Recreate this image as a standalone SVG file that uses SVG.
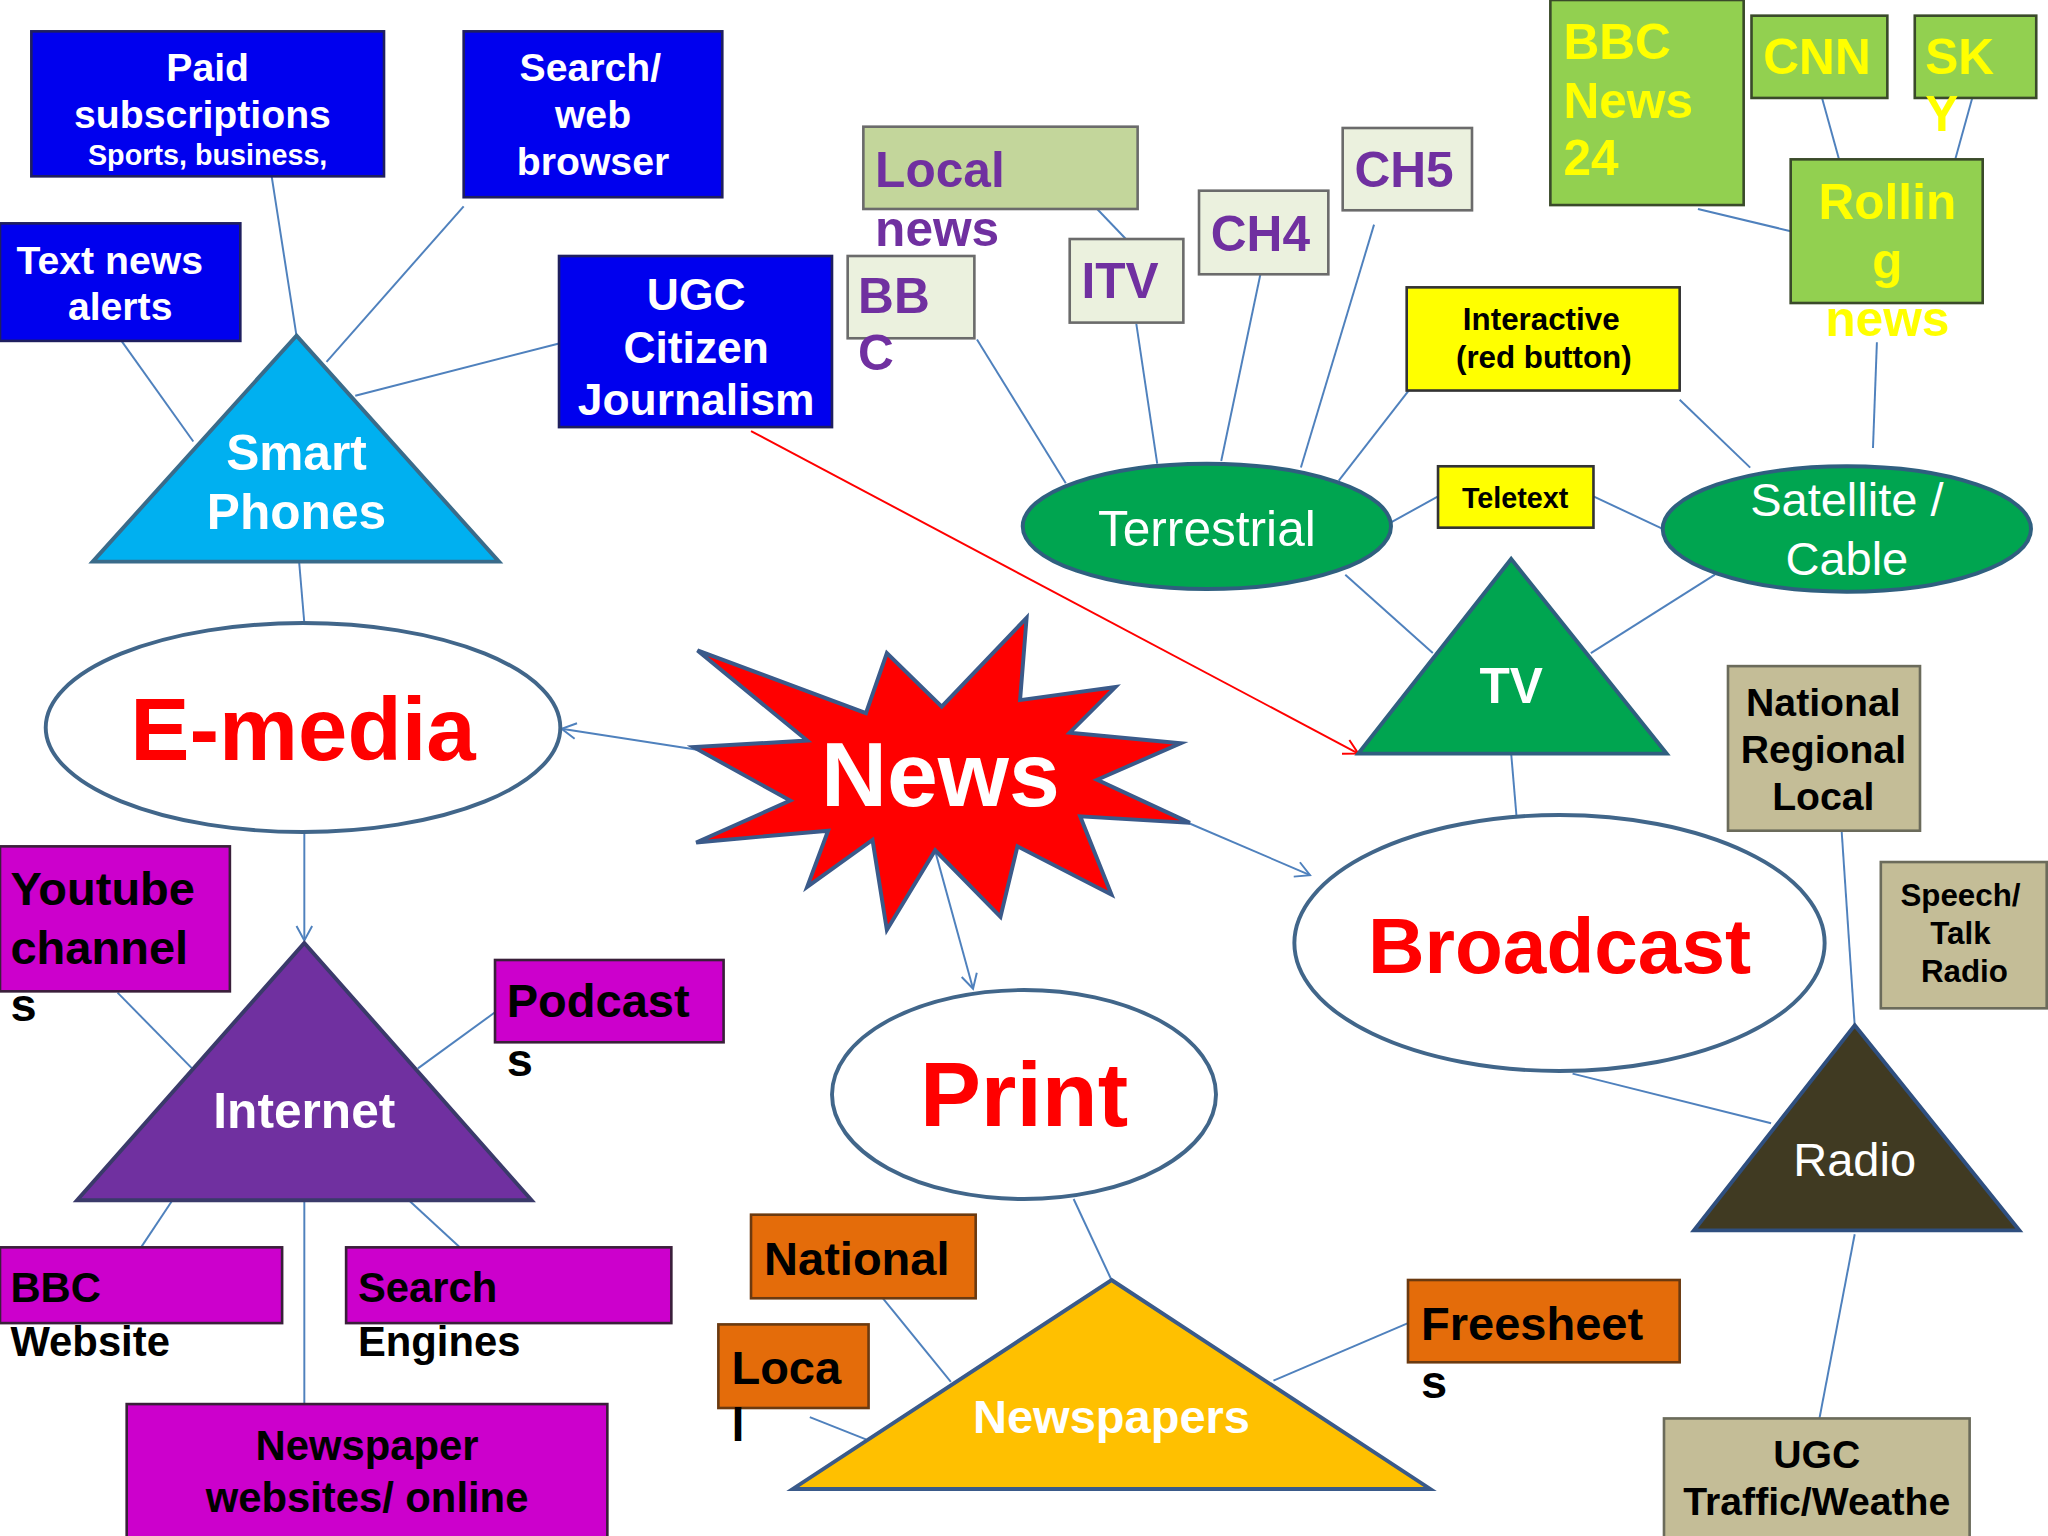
<svg xmlns="http://www.w3.org/2000/svg" width="2048" height="1536" viewBox="0 0 2048 1536">
<defs>
<style>
text{font-family:"Liberation Sans",Arial,sans-serif;font-weight:bold}
.c{stroke:#4F81BD;stroke-width:1.5;fill:none}
.bb{fill:#0000EE;stroke:#1F1F5F;stroke-width:2}
.w{fill:#fff}
.k{fill:#000}
.p{fill:#7030A0}
.y{fill:#FFFF00}
.mg{fill:#CC00CC;stroke:#3A1F3A;stroke-width:2}
.or{fill:#E46C0A;stroke:#6B3A10;stroke-width:2}
.lt{fill:#EBF1DE;stroke:#6B6B6B;stroke-width:2}
.gr{fill:#92D050;stroke:#3A4A2A;stroke-width:2}
.tan{fill:#C4BD97;stroke:#6B6B5B;stroke-width:2}
.yl{fill:#FFFF00;stroke:#333;stroke-width:2}
.el{fill:#fff;stroke:#41668A;stroke-width:3}
.ge{fill:#00A550;stroke:#2F5F7F;stroke-width:3}
.m{text-anchor:middle}
.n{font-weight:normal}
</style>
<marker id="a" markerWidth="14" markerHeight="14" refX="12" refY="7" orient="auto" markerUnits="userSpaceOnUse"><path d="M1,1 L12,7 L1,13" fill="none" stroke="#4F81BD" stroke-width="1.5"/></marker>
<marker id="r" markerWidth="14" markerHeight="14" refX="12" refY="7" orient="auto" markerUnits="userSpaceOnUse"><path d="M1,1 L12,7 L1,13" fill="none" stroke="#FF0000" stroke-width="1.5"/></marker>
</defs>
<rect width="2048" height="1536" fill="#fff"/>
<g transform="scale(1.30612)">
<g id="connectors">
<line class="c" x1="208" y1="135" x2="227" y2="257"/>
<line class="c" x1="355" y1="158" x2="250" y2="277"/>
<line class="c" x1="93" y1="261" x2="148" y2="338"/>
<line class="c" x1="428" y1="263" x2="272" y2="303"/>
<line class="c" x1="229" y1="430" x2="233" y2="477"/>
<line class="c" x1="233" y1="637" x2="233" y2="720" marker-end="url(#a)"/>
<line class="c" x1="540" y1="575" x2="430" y2="558" marker-end="url(#a)"/>
<line class="c" x1="905" y1="628" x2="1003" y2="670" marker-end="url(#a)"/>
<line class="c" x1="715" y1="648" x2="745" y2="757" marker-end="url(#a)"/>
<line class="c" x1="90" y1="760" x2="147" y2="818"/>
<line class="c" x1="379" y1="775" x2="320" y2="818"/>
<line class="c" x1="132" y1="919" x2="108" y2="955"/>
<line class="c" x1="313" y1="919" x2="352" y2="955"/>
<line class="c" x1="233" y1="919" x2="233" y2="1075"/>
<line class="c" x1="822" y1="918" x2="851" y2="980"/>
<line class="c" x1="676" y1="994" x2="728" y2="1058"/>
<line class="c" x1="620" y1="1085" x2="663" y2="1102"/>
<line class="c" x1="1078" y1="1013" x2="975" y2="1057"/>
<line class="c" x1="1204" y1="822" x2="1356" y2="860"/>
<line class="c" x1="1410" y1="636" x2="1420" y2="785"/>
<line class="c" x1="1420" y1="945" x2="1393" y2="1086"/>
<line class="c" x1="1157" y1="577" x2="1161" y2="624"/>
<line class="c" x1="1097" y1="500" x2="1030" y2="440"/>
<line class="c" x1="1218" y1="500" x2="1313" y2="440"/>
<line class="c" x1="1065" y1="400" x2="1101" y2="380"/>
<line class="c" x1="1220" y1="380" x2="1273" y2="405"/>
<line class="c" x1="1025" y1="368" x2="1091" y2="283"/>
<line class="c" x1="1286" y1="306" x2="1340" y2="358"/>
<line class="c" x1="1437" y1="262" x2="1434" y2="343"/>
<line class="c" x1="1300" y1="160" x2="1371" y2="177"/>
<line class="c" x1="1395" y1="75" x2="1408" y2="122"/>
<line class="c" x1="1510" y1="75" x2="1497" y2="122"/>
<line class="c" x1="748" y1="260" x2="816" y2="370"/>
<line class="c" x1="840" y1="160" x2="862" y2="183"/>
<line class="c" x1="870" y1="248" x2="886" y2="355"/>
<line class="c" x1="965" y1="210" x2="935" y2="353"/>
<line class="c" x1="1052" y1="172" x2="996" y2="358"/>
<line x1="575" y1="330" x2="1040" y2="577" stroke="#FF0000" stroke-width="1.5" marker-end="url(#r)"/>
</g>
<g id="paid"><rect class="bb" x="24" y="24" width="270" height="111"/><text class="w m" x="159" y="62" font-size="30">Paid</text><text class="w m" x="155" y="98" font-size="30">subscriptions</text><text class="w m" x="159" y="126" font-size="22">Sports, business,</text></g>
<g id="search"><rect class="bb" x="355" y="24" width="198" height="127"/><text class="w m" x="452" y="62" font-size="30">Search/</text><text class="w m" x="454" y="98" font-size="30">web</text><text class="w m" x="454" y="134" font-size="30">browser</text></g>
<g id="textalerts"><rect class="bb" x="0" y="171" width="184" height="90"/><text class="w m" x="84" y="210" font-size="30">Text news</text><text class="w m" x="92" y="245" font-size="30">alerts</text></g>
<g id="ugc"><rect class="bb" x="428" y="196" width="209" height="131"/><text class="w m" x="533" y="237" font-size="34">UGC</text><text class="w m" x="533" y="278" font-size="34">Citizen</text><text class="w m" x="533" y="318" font-size="34">Journalism</text></g>
<g id="smartphones"><polygon points="227,257 382,430 71,430" fill="#00B0F0" stroke="#3A6B8A" stroke-width="3"/><text class="w m" x="227" y="360" font-size="38">Smart</text><text class="w m" x="227" y="405" font-size="38">Phones</text></g>
<g id="emedia"><ellipse class="el" cx="232" cy="557" rx="197" ry="80"/><text class="m" x="232" y="582" font-size="68" fill="#FF0000">E-media</text></g>
<g id="news"><polygon points="534,498 663,546 679,500 721,541 786,473 781,536 854,526 819,561 904,569 840,597 911,630 827,625 851,685 779,648 766,702 716,651 679,712 668,643 618,679 634,636 533,645 605,613 531,572 618,567" fill="#FF0000" stroke="#3A5A8A" stroke-width="3" stroke-linejoin="miter"/><text class="w m" x="720" y="617" font-size="70">News</text></g>
<g id="broadcast"><ellipse class="el" cx="1194" cy="722" rx="203" ry="98"/><text class="m" x="1194" y="745" font-size="60" fill="#FF0000">Broadcast</text></g>
<g id="print"><ellipse class="el" cx="784" cy="838" rx="147" ry="80"/><text class="m" x="784" y="862" font-size="70" fill="#FF0000">Print</text></g>
<g id="internet"><polygon points="233,722 407,919 59,919" fill="#7030A0" stroke="#3A3A6A" stroke-width="3"/><text class="w m" x="233" y="864" font-size="38">Internet</text></g>
<g id="youtube"><rect class="mg" x="0" y="648" width="176" height="111"/><text class="k" x="8" y="693" font-size="36">Youtube</text><text class="k" x="8" y="738" font-size="36">channel</text><text class="k" x="8" y="782" font-size="36">s</text></g>
<g id="podcasts"><rect class="mg" x="379" y="735" width="175" height="63"/><text class="k" x="388" y="779" font-size="36">Podcast</text><text class="k" x="388" y="824" font-size="36">s</text></g>
<g id="bbcweb"><rect class="mg" x="0" y="955" width="216" height="58"/><text class="k" x="8" y="997" font-size="32">BBC</text><text class="k" x="8" y="1038" font-size="32">Website</text></g>
<g id="searchengines"><rect class="mg" x="265" y="955" width="249" height="58"/><text class="k" x="274" y="997" font-size="32">Search</text><text class="k" x="274" y="1038" font-size="32">Engines</text></g>
<g id="npweb"><rect class="mg" x="97" y="1075" width="368" height="110"/><text class="k m" x="281" y="1118" font-size="32">Newspaper</text><text class="k m" x="281" y="1158" font-size="32">websites/ online</text></g>
<g id="newspapers"><polygon points="851,980 1095,1140 607,1140" fill="#FFC000" stroke="#3A5A8A" stroke-width="3"/><text class="w m" x="851" y="1097" font-size="36">Newspapers</text></g>
<g id="national"><rect class="or" x="575" y="930" width="172" height="64"/><text class="k" x="585" y="976" font-size="36">National</text></g>
<g id="local"><rect class="or" x="550" y="1014" width="115" height="64"/><text class="k" x="560" y="1060" font-size="36">Loca</text><text class="k" x="560" y="1103" font-size="36">l</text></g>
<g id="freesheets"><rect class="or" x="1078" y="980" width="208" height="63"/><text class="k" x="1088" y="1026" font-size="36">Freesheet</text><text class="k" x="1088" y="1070" font-size="36">s</text></g>
<g id="tv"><polygon points="1157,428 1276,577 1040,577" fill="#00A550" stroke="#2F5F7F" stroke-width="3"/><text class="w m" x="1157" y="538" font-size="38">TV</text></g>
<g id="terrestrial"><ellipse class="ge" cx="924" cy="403" rx="141" ry="48"/><text class="w m n" x="924" y="418" font-size="38">Terrestrial</text></g>
<g id="satellite"><ellipse class="ge" cx="1414" cy="405" rx="141" ry="48"/><text class="w m n" x="1414" y="395" font-size="36">Satellite /</text><text class="w m n" x="1414" y="440" font-size="36">Cable</text></g>
<g id="teletext"><rect class="yl" x="1101" y="357" width="119" height="47"/><text class="k m" x="1160" y="389" font-size="22">Teletext</text></g>
<g id="interactive"><rect class="yl" x="1077" y="220" width="209" height="79"/><text class="k m" x="1180" y="253" font-size="24">Interactive</text><text class="k m" x="1182" y="282" font-size="24">(red button)</text></g>
<g id="localnews"><rect x="661" y="97" width="210" height="63" fill="#C3D69B" stroke="#6B6B6B" stroke-width="2"/><text class="p" x="670" y="143" font-size="38">Local</text><text class="p" x="670" y="188" font-size="38">news</text></g>
<g id="bbc"><rect class="lt" x="649" y="196" width="97" height="63"/><text class="p" x="657" y="240" font-size="38">BB</text><text class="p" x="657" y="283" font-size="38">C</text></g>
<g id="itv"><rect class="lt" x="819" y="183" width="87" height="64"/><text class="p" x="828" y="228" font-size="38">ITV</text></g>
<g id="ch4"><rect class="lt" x="918" y="146" width="99" height="64"/><text class="p" x="927" y="192" font-size="38">CH4</text></g>
<g id="ch5"><rect class="lt" x="1028" y="98" width="99" height="63"/><text class="p" x="1037" y="143" font-size="38">CH5</text></g>
<g id="bbcnews24"><rect class="gr" x="1187" y="0" width="148" height="157"/><text class="y" x="1197" y="45" font-size="38">BBC</text><text class="y" x="1197" y="90" font-size="38">News</text><text class="y" x="1197" y="134" font-size="38">24</text></g>
<g id="cnn"><rect class="gr" x="1341" y="12" width="104" height="63"/><text class="y" x="1350" y="57" font-size="38">CNN</text></g>
<g id="sky"><rect class="gr" x="1466" y="12" width="93" height="63"/><text class="y" x="1474" y="57" font-size="38">SK</text><text class="y" x="1474" y="100" font-size="38">Y</text></g>
<g id="rolling"><rect class="gr" x="1371" y="122" width="147" height="110"/><text class="y m" x="1445" y="168" font-size="38">Rollin</text><text class="y m" x="1445" y="213" font-size="38">g</text><text class="y m" x="1445" y="257" font-size="38">news</text></g>
<g id="nrl"><rect class="tan" x="1323" y="510" width="147" height="126"/><text class="k m" x="1396" y="548" font-size="30">National</text><text class="k m" x="1396" y="584" font-size="30">Regional</text><text class="k m" x="1396" y="620" font-size="30">Local</text></g>
<g id="speech"><rect class="tan" x="1440" y="660" width="127" height="112"/><text class="k m" x="1501" y="694" font-size="24">Speech/</text><text class="k m" x="1501" y="723" font-size="24">Talk</text><text class="k m" x="1504" y="752" font-size="24">Radio</text></g>
<g id="radio"><polygon points="1420,785 1546,942 1297,942" fill="#403A22" stroke="#2F4F7F" stroke-width="3"/><text class="w m n" x="1420" y="900" font-size="36">Radio</text></g>
<g id="ugcradio"><rect class="tan" x="1274" y="1086" width="234" height="100"/><text class="k m" x="1391" y="1124" font-size="30">UGC</text><text class="k m" x="1391" y="1160" font-size="30">Traffic/Weathe</text></g>
</g>
</svg>
